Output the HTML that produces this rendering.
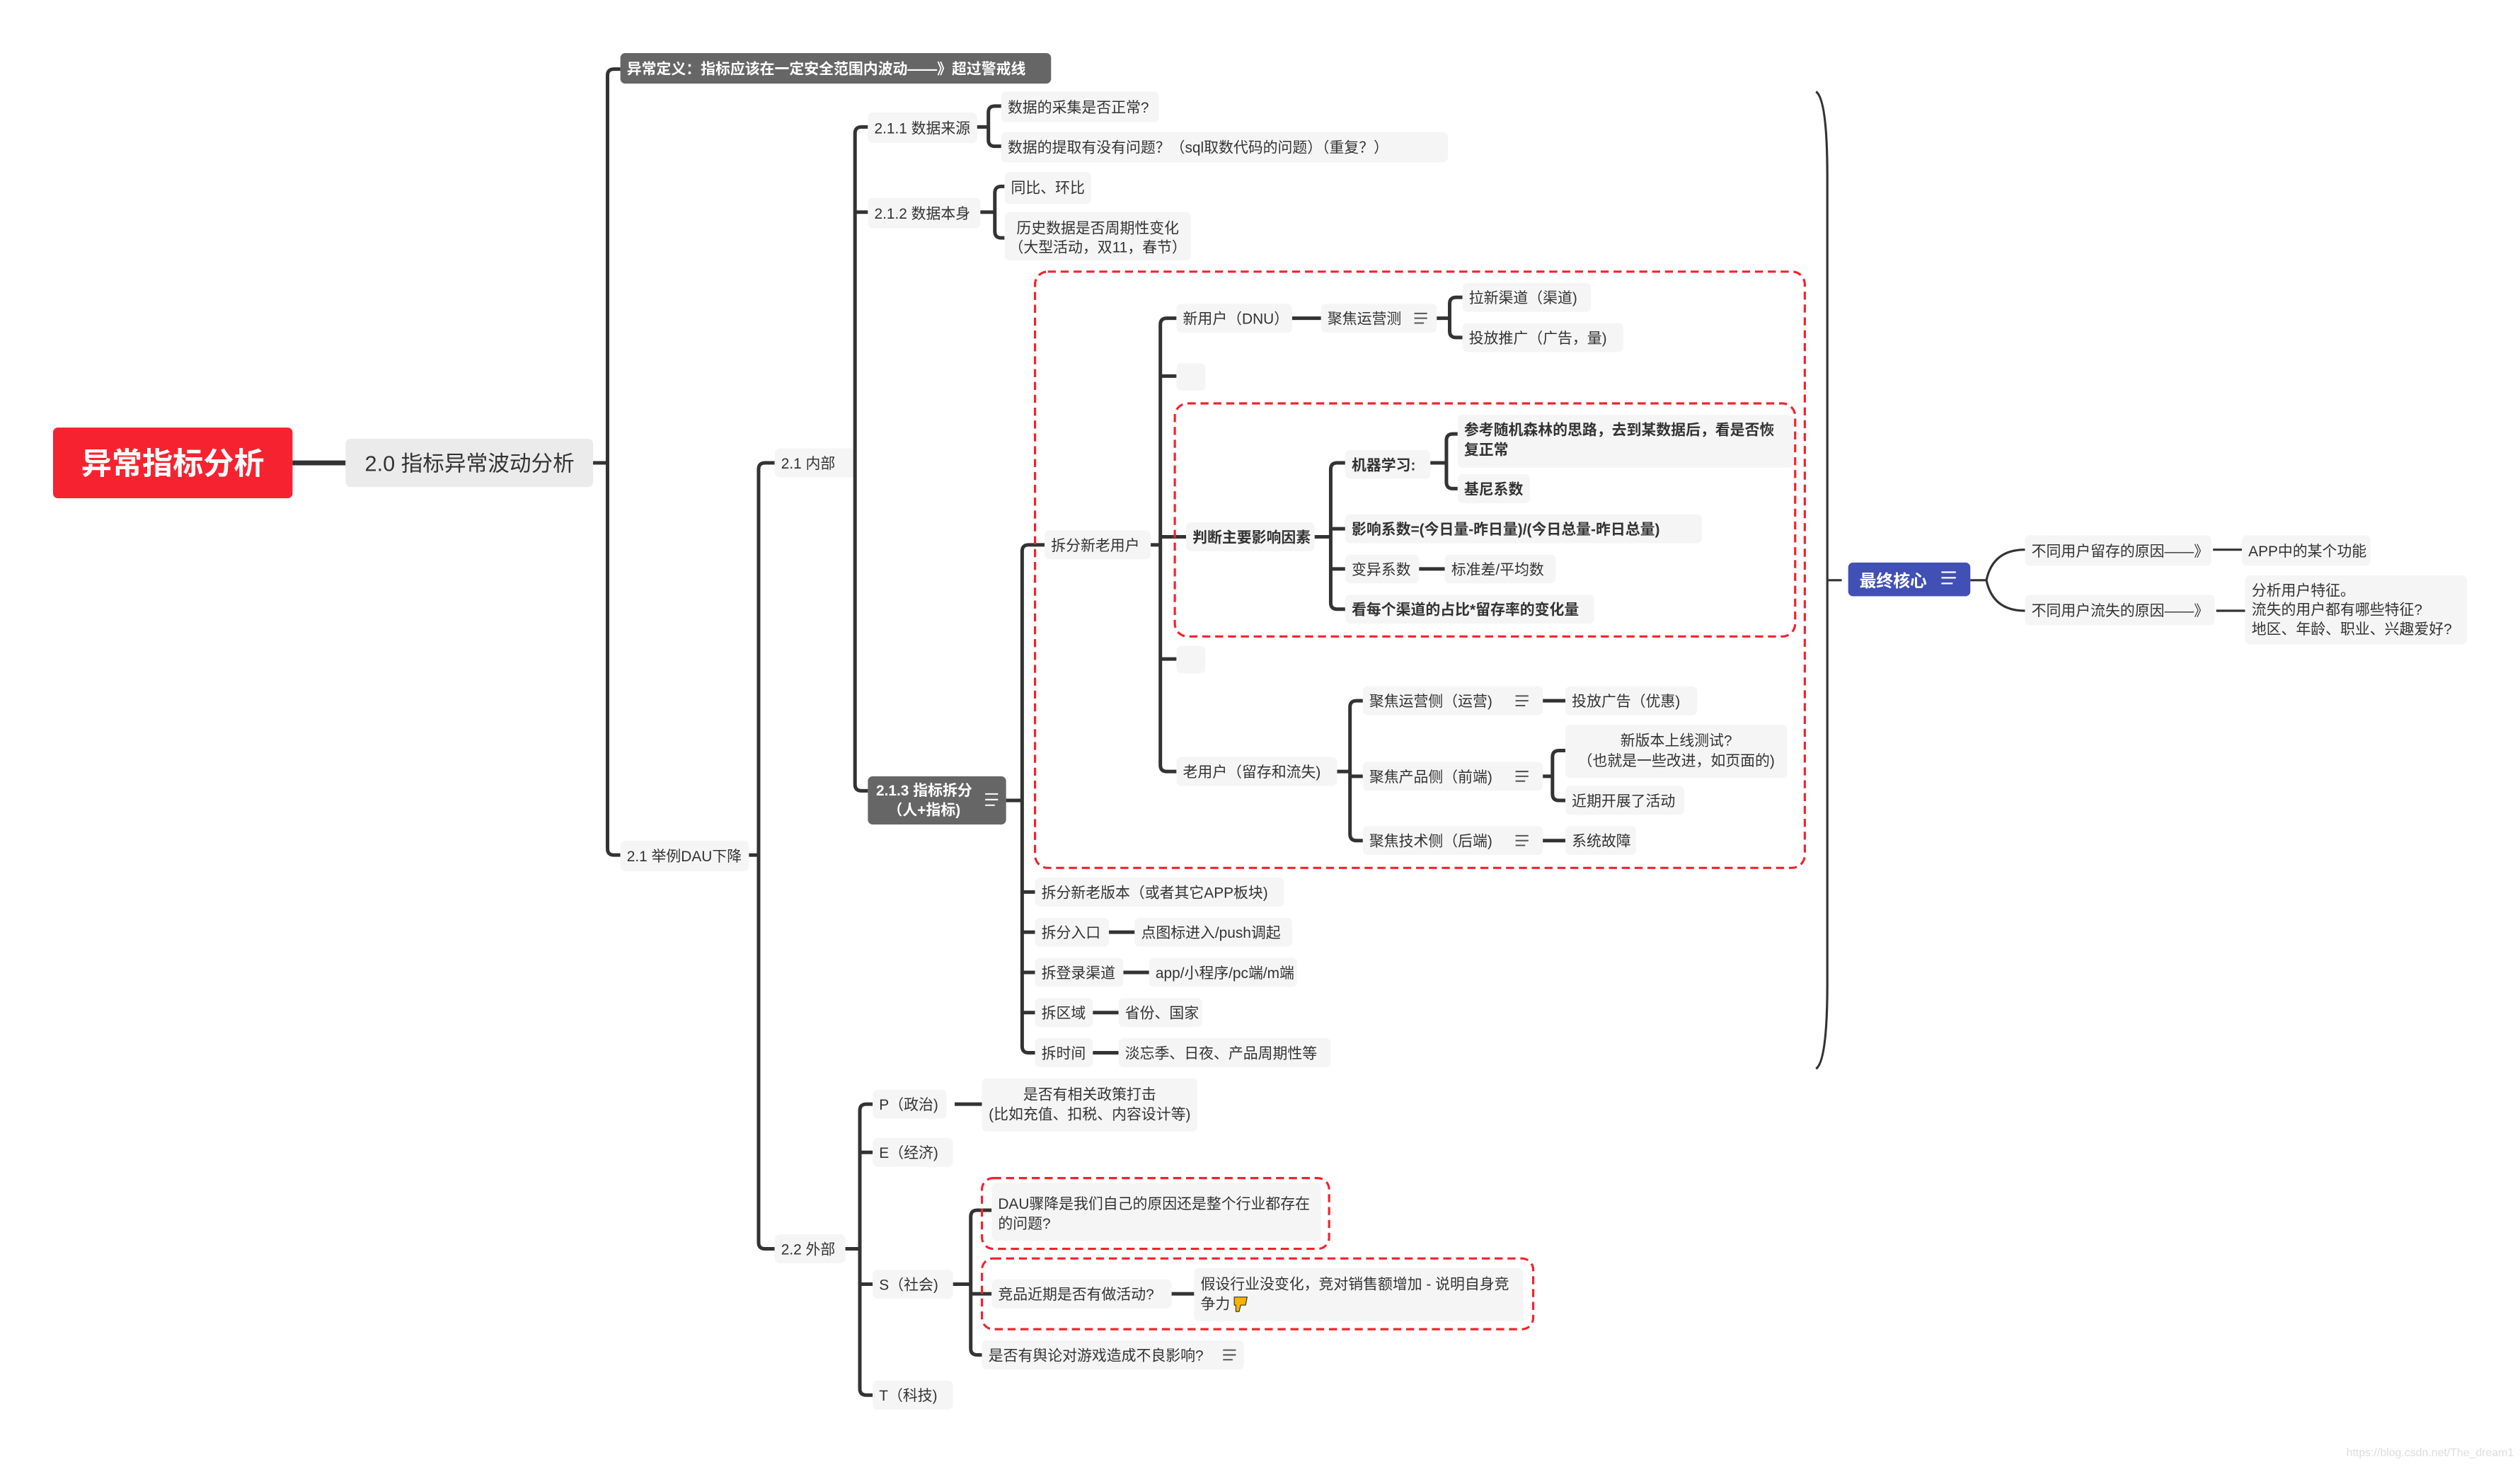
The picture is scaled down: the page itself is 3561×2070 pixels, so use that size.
<!DOCTYPE html>
<html><head><meta charset="utf-8"><style>
html,body{margin:0;padding:0;background:#fff;}
svg{display:block;}
text{font-family:"Liberation Sans","Noto Sans CJK SC",sans-serif;fill:#333;font-size:9.2px;}
.b{font-weight:bold;}
.w{fill:#fff;}
.n{fill:#f5f5f5;}
.l{fill:none;stroke:#333;stroke-width:2.2;}
.t{fill:none;stroke:#333;stroke-width:1.4;}
.r{fill:none;stroke:#f5222d;stroke-width:1.4;stroke-dasharray:5,3;}
.ic{fill:none;stroke:#555;stroke-width:0.9;}
</style></head><body>
<svg width="3561" height="2070" viewBox="0 0 1568 911.5" xmlns="http://www.w3.org/2000/svg">
<!-- root -->
<rect x="33" y="266" width="149" height="44" rx="3" fill="#f7222f"/>
<text x="107.5" y="295" text-anchor="middle" class="b w" style="font-size:19px">异常指标分析</text>
<path class="l" d="M182 288H215" style="stroke-width:3"/>
<rect x="215" y="273" width="154" height="30" rx="3" fill="#ebebeb"/>
<text x="227" y="293" style="font-size:13.5px">2.0 指标异常波动分析</text>
<!-- spine 1 -->
<path class="l" d="M369 288H378"/>
<path class="l" d="M386 43H382Q378 43 378 47V528Q378 532 382 532H386"/>
<rect x="386" y="33" width="268" height="19" rx="3" fill="#666"/>
<text x="390" y="46" class="b w">异常定义：指标应该在一定安全范围内波动——》超过警戒线</text>
<rect x="386" y="523" width="80" height="19" rx="3" class="n"/>
<text x="390" y="536">2.1 举例DAU下降</text>
<!-- spine 2 -->
<path class="l" d="M466 532H472"/>
<path class="l" d="M482 288H476Q472 288 472 292V773Q472 777 476 777H482"/>
<rect x="482" y="279" width="50" height="18" rx="3" class="n"/>
<text x="486" y="291.5">2.1 内部</text>
<rect x="482" y="768" width="44" height="18" rx="3" class="n"/>
<text x="486" y="780.5">2.2 外部</text>
<!-- 2.1 内部 spine -->
<path class="l" d="M532 288H532"/>
<path class="l" d="M540 79H536Q532 79 532 83V488Q532 492 536 492H540"/>
<path class="l" d="M532 132H540"/>
<rect x="540" y="70" width="68" height="19" rx="3" class="n"/>
<text x="544" y="83">2.1.1 数据来源</text>
<path class="l" d="M608 79H615M623 66H619Q615 66 615 70V87Q615 91 619 91H623"/>
<rect x="623" y="57" width="98" height="19" rx="3" class="n"/>
<text x="627" y="70">数据的采集是否正常?</text>
<rect x="623" y="82" width="278" height="19" rx="3" class="n"/>
<text x="627" y="95">数据的提取有没有问题？（sql取数代码的问题）（重复？）</text>
<rect x="540" y="123" width="70" height="19" rx="3" class="n"/>
<text x="544" y="136">2.1.2 数据本身</text>
<path class="l" d="M610 132H619M625 116H623Q619 116 619 120V144Q619 148 623 148H625"/>
<rect x="625" y="107" width="54" height="20" rx="3" class="n"/>
<text x="629" y="120">同比、环比</text>
<rect x="625" y="132" width="116" height="30" rx="3" class="n"/>
<text x="683" y="145" text-anchor="middle">历史数据是否周期性变化</text>
<text x="683" y="157" text-anchor="middle">（大型活动，双11，春节）</text>
<rect x="540" y="483" width="86" height="30" rx="3" fill="#666"/>
<text x="575" y="495" text-anchor="middle" class="b w">2.1.3 指标拆分</text>
<text x="575" y="507" text-anchor="middle" class="b w">（人+指标)</text>
<path d="M613 494h8M613 497.5h8M613 501h6" stroke="#fff" stroke-width="0.9"/>
<!-- 2.1.3 spine -->
<path class="l" d="M626 498H636"/>
<path class="l" d="M650 339H640Q636 339 636 343V651Q636 655 640 655H644"/>
<path class="l" d="M636 555H644M636 580H644M636 605H644M636 630H644"/>
<rect class="r" x="644" y="169" width="479" height="371" rx="8"/>
<rect x="650" y="330" width="66" height="18" rx="3" class="n"/>
<text x="654" y="342.5">拆分新老用户</text>
<path class="l" d="M716 339H722"/>
<path class="l" d="M732 198H726Q722 198 722 202V476Q722 480 726 480H732"/>
<path class="l" d="M722 234H732M722 334H738M722 410H732"/>
<rect x="732" y="189" width="72" height="18" rx="3" class="n"/>
<text x="736" y="201.5">新用户（DNU）</text>
<path class="l" d="M804 198H822"/>
<rect x="822" y="189" width="72" height="18" rx="3" class="n"/>
<text x="826" y="201.5">聚焦运营测</text>
<path class="ic" d="M880 195h8M880 198h8M880 201h6"/>
<path class="l" d="M894 198H902M910 185H906Q902 185 902 189V206Q902 210 906 210H910"/>
<rect x="910" y="176" width="80" height="18" rx="3" class="n"/>
<text x="914" y="188.5">拉新渠道（渠道)</text>
<rect x="910" y="201" width="100" height="18" rx="3" class="n"/>
<text x="914" y="213.5">投放推广（广告，量)</text>
<rect x="732" y="226" width="18" height="17" rx="3" class="n"/>
<rect class="r" x="731" y="251" width="386" height="145" rx="8"/>
<rect x="738" y="325" width="80" height="18" rx="3" class="n"/>
<text x="742" y="337.5" class="b">判断主要影响因素</text>
<path class="l" d="M818 334H828"/>
<path class="l" d="M837 288H832Q828 288 828 292V375Q828 379 832 379H837"/>
<path class="l" d="M828 329H837M828 354H837"/>
<rect x="837" y="280" width="53" height="18" rx="3" class="n"/>
<text x="841" y="292.5" class="b">机器学习:</text>
<path class="l" d="M890 288H900M907 270H904Q900 270 900 274V300Q900 304 904 304H907"/>
<rect x="907" y="258" width="209" height="33" rx="3" class="n"/>
<text x="911" y="270.5" class="b">参考随机森林的思路，去到某数据后，看是否恢</text>
<text x="911" y="283" class="b">复正常</text>
<rect x="907" y="295" width="45" height="18" rx="3" class="n"/>
<text x="911" y="307.5" class="b">基尼系数</text>
<rect x="837" y="320" width="222" height="18" rx="3" class="n"/>
<text x="841" y="332.5" class="b">影响系数=(今日量-昨日量)/(今日总量-昨日总量)</text>
<rect x="837" y="345" width="46" height="18" rx="3" class="n"/>
<text x="841" y="357.5">变异系数</text>
<path class="l" d="M883 354H899"/>
<rect x="899" y="345" width="69" height="18" rx="3" class="n"/>
<text x="903" y="357.5">标准差/平均数</text>
<rect x="837" y="370" width="155" height="18" rx="3" class="n"/>
<text x="841" y="382.5" class="b">看每个渠道的占比*留存率的变化量</text>
<rect x="732" y="402" width="18" height="17" rx="3" class="n"/>
<rect x="732" y="471" width="100" height="18" rx="3" class="n"/>
<text x="736" y="483.5">老用户（留存和流失)</text>
<path class="l" d="M832 480H840"/>
<path class="l" d="M848 436H844Q840 436 840 440V519Q840 523 844 523H848M840 483H848"/>
<rect x="848" y="427" width="112" height="18" rx="3" class="n"/>
<text x="852" y="439.5">聚焦运营侧（运营)</text>
<path class="ic" d="M943 433h8M943 436h8M943 439h6"/>
<path class="l" d="M960 436H974"/>
<rect x="974" y="427" width="82" height="18" rx="3" class="n"/>
<text x="978" y="439.5">投放广告（优惠)</text>
<rect x="848" y="474" width="112" height="18" rx="3" class="n"/>
<text x="852" y="486.5">聚焦产品侧（前端)</text>
<path class="ic" d="M943 480h8M943 483h8M943 486h6"/>
<path class="l" d="M960 483H966M974 467H970Q966 467 966 471V494Q966 498 970 498H974"/>
<rect x="974" y="451" width="138" height="33" rx="3" class="n"/>
<text x="1043" y="464" text-anchor="middle">新版本上线测试?</text>
<text x="1043" y="476.5" text-anchor="middle">（也就是一些改进，如页面的)</text>
<rect x="974" y="489" width="74" height="18" rx="3" class="n"/>
<text x="978" y="501.5">近期开展了活动</text>
<rect x="848" y="514" width="112" height="18" rx="3" class="n"/>
<text x="852" y="526.5">聚焦技术侧（后端)</text>
<path class="ic" d="M943 520h8M943 523h8M943 526h6"/>
<path class="l" d="M960 523H974"/>
<rect x="974" y="514" width="44" height="18" rx="3" class="n"/>
<text x="978" y="526.5">系统故障</text>
<rect x="644" y="546" width="155" height="18" rx="3" class="n"/>
<text x="648" y="558.5">拆分新老版本（或者其它APP板块)</text>
<rect x="644" y="571" width="46" height="18" rx="3" class="n"/>
<text x="648" y="583.5">拆分入口</text>
<path class="l" d="M690 580H706"/>
<rect x="706" y="571" width="98" height="18" rx="3" class="n"/>
<text x="710" y="583.5">点图标进入/push调起</text>
<rect x="644" y="596" width="55" height="18" rx="3" class="n"/>
<text x="648" y="608.5">拆登录渠道</text>
<path class="l" d="M699 605H715"/>
<rect x="715" y="596" width="92" height="18" rx="3" class="n"/>
<text x="719" y="608.5">app/小程序/pc端/m端</text>
<rect x="644" y="621" width="36" height="18" rx="3" class="n"/>
<text x="648" y="633.5">拆区域</text>
<path class="l" d="M680 630H696"/>
<rect x="696" y="621" width="52" height="18" rx="3" class="n"/>
<text x="700" y="633.5">省份、国家</text>
<rect x="644" y="646" width="36" height="18" rx="3" class="n"/>
<text x="648" y="658.5">拆时间</text>
<path class="l" d="M680 655H696"/>
<rect x="696" y="646" width="132" height="18" rx="3" class="n"/>
<text x="700" y="658.5">淡忘季、日夜、产品周期性等</text>
<!-- 2.2 外部 -->
<path class="l" d="M526 777H535"/>
<path class="l" d="M543 687H539Q535 687 535 691V864Q535 868 539 868H543M535 717H543M535 799H543"/>
<rect x="543" y="678" width="46" height="18" rx="3" class="n"/>
<text x="547" y="690.5">P（政治)</text>
<path class="l" d="M594 687H611"/>
<rect x="611" y="671" width="134" height="33" rx="3" class="n"/>
<text x="678" y="684" text-anchor="middle">是否有相关政策打击</text>
<text x="678" y="696.5" text-anchor="middle">(比如充值、扣税、内容设计等)</text>
<rect x="543" y="708" width="50" height="18" rx="3" class="n"/>
<text x="547" y="720.5">E（经济)</text>
<rect x="543" y="790" width="50" height="18" rx="3" class="n"/>
<text x="547" y="802.5">S（社会)</text>
<path class="l" d="M593 799H604M617 753H608Q604 753 604 757V839Q604 843 608 843H611M604 805H617"/>
<rect class="r" x="611" y="733" width="216" height="44" rx="7"/>
<rect x="617" y="736" width="205" height="36" rx="3" class="n"/>
<text x="621" y="752">DAU骤降是我们自己的原因还是整个行业都存在</text>
<text x="621" y="764.5">的问题?</text>
<rect class="r" x="611" y="783" width="343" height="44" rx="7"/>
<rect x="617" y="796" width="112" height="18" rx="3" class="n"/>
<text x="621" y="808.5">竞品近期是否有做活动?</text>
<path class="l" d="M729 805H743"/>
<rect x="743" y="789" width="205" height="33" rx="3" class="n"/>
<text x="747" y="802">假设行业没变化，竞对销售额增加 - 说明自身竞</text>
<text x="747" y="814.5">争力</text>
<path d="M768 807h8l-1 5h-3l-1 4h-2v-4h-1z" fill="#f5b400" stroke="#333" stroke-width="0.5"/>
<rect x="611" y="834" width="163" height="18" rx="3" class="n"/>
<text x="615" y="846.5">是否有舆论对游戏造成不良影响?</text>
<path class="ic" d="M761 840h8M761 843h8M761 846h6"/>
<rect x="543" y="859" width="50" height="18" rx="3" class="n"/>
<text x="547" y="871.5">T（科技)</text>
<!-- bracket -->
<path class="t" d="M1130 57Q1137 62 1137 110V612Q1137 660 1130 665"/>
<path class="t" d="M1137 361H1146"/>
<rect x="1150" y="350" width="76" height="21" rx="3" fill="#4150b5"/>
<text x="1157" y="365" class="b w" style="font-size:10.5px">最终核心</text>
<path d="M1208 356h9M1208 359.5h9M1208 363h7" stroke="#fff" stroke-width="1"/>
<path class="t" d="M1226 361H1236Q1240 342 1260 342M1236 361Q1240 380 1260 380"/>
<rect x="1260" y="333" width="116" height="19" rx="3" class="n"/>
<text x="1264" y="346">不同用户留存的原因——》</text>
<path class="t" d="M1377 342H1395"/>
<rect x="1395" y="333" width="80" height="19" rx="3" class="n"/>
<text x="1399" y="346">APP中的某个功能</text>
<rect x="1260" y="370" width="118" height="19" rx="3" class="n"/>
<text x="1264" y="383">不同用户流失的原因——》</text>
<path class="t" d="M1379 380H1397"/>
<rect x="1397" y="358" width="138" height="43" rx="3" class="n"/>
<text x="1401" y="370.5">分析用户特征。</text>
<text x="1401" y="382.5">流失的用户都有哪些特征?</text>
<text x="1401" y="394.5">地区、年龄、职业、兴趣爱好?</text>
<text x="1460" y="906" style="font-size:7px;fill:#ddd">https://blog.csdn.net/The_dream1</text>
</svg>
</body></html>
